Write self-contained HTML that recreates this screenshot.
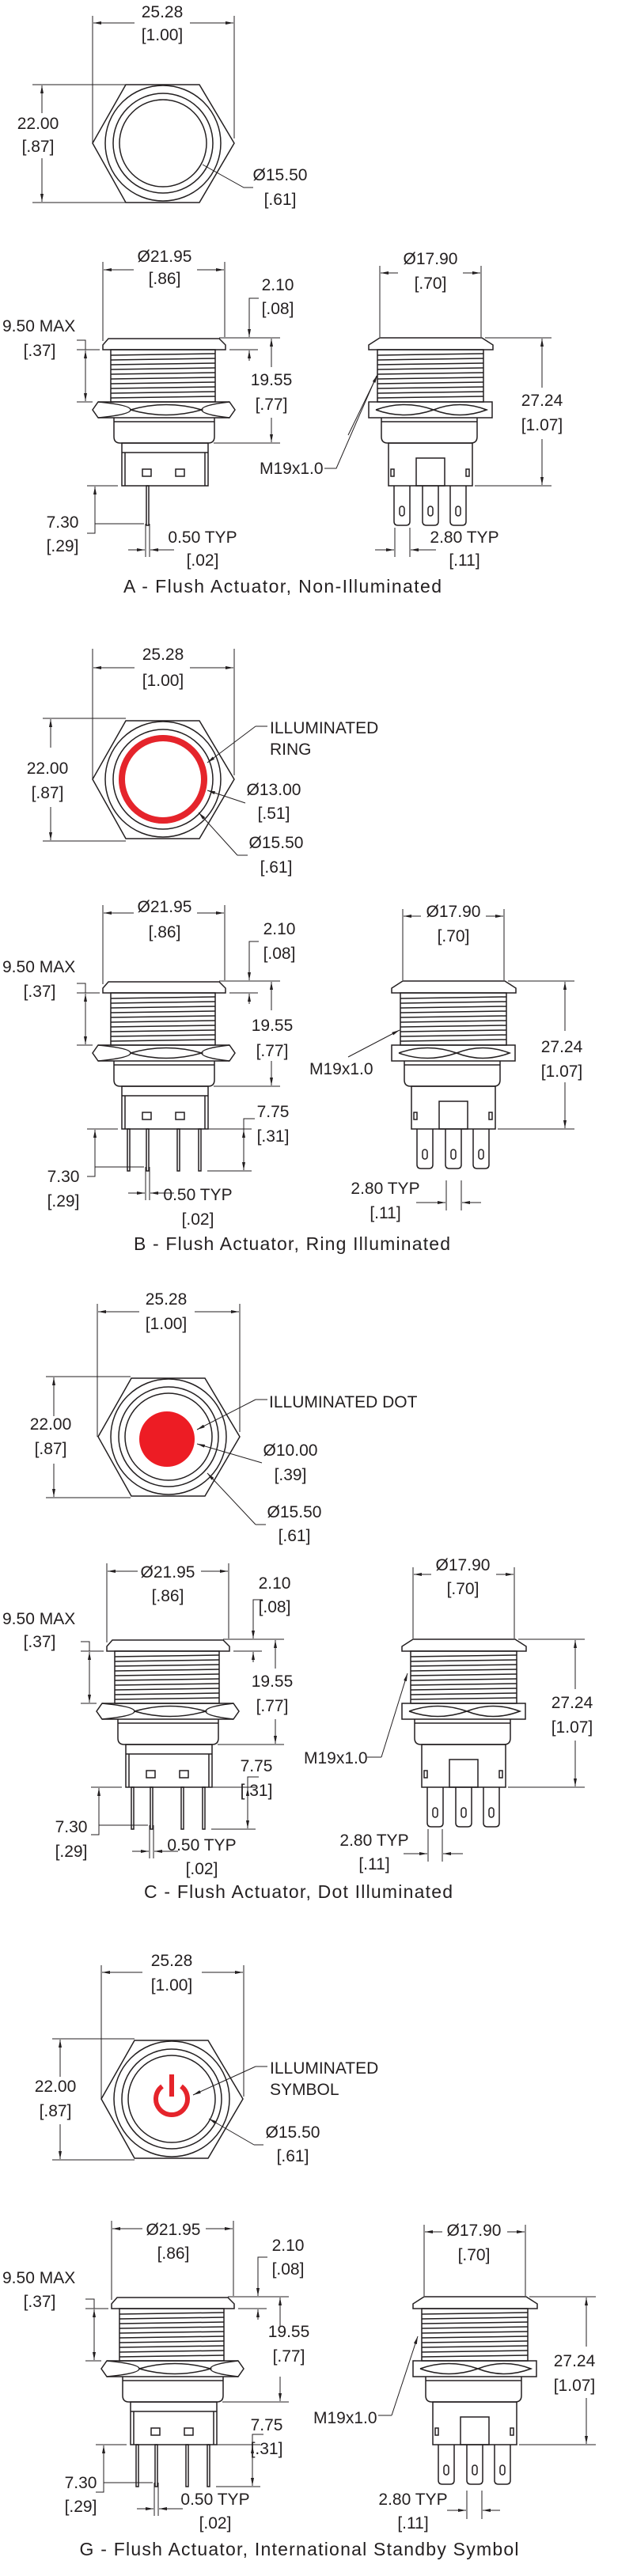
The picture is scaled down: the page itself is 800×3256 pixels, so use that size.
<!DOCTYPE html>
<html><head><meta charset="utf-8"><style>
html,body{margin:0;padding:0;background:#fff;}
svg{display:block}
.t{font-family:"Liberation Sans",Arial,sans-serif;font-size:21px;fill:#231f20;}
.m{text-anchor:middle}
.h{font-family:"Liberation Sans",Arial,sans-serif;font-size:23px;fill:#231f20;text-anchor:middle}
.o{fill:none;stroke:#231f20;stroke-width:1.5}
.d{fill:none;stroke:#231f20;stroke-width:1}
</style></head><body>
<svg width="800" height="3256" viewBox="0 0 800 3256" xmlns="http://www.w3.org/2000/svg">
<defs>
<marker id="a" viewBox="0 0 10 4" refX="10" refY="2" markerWidth="10" markerHeight="4" orient="auto" markerUnits="userSpaceOnUse"><path d="M0,0L10,2L0,4Z" fill="#231f20"/></marker>
<g id="hex" class="o"><polygon points="117,181 159,107 252,107 296,181 252,256 159,256"/><circle cx="206" cy="181" r="73"/><circle cx="206" cy="181" r="63"/><circle cx="206" cy="181" r="55"/></g>
<g id="L">
<g class="o">
<path d="M137,428H277L285,436V442H130V436Z"/>
<rect x="140" y="442" width="132" height="66"/>
<path d="M140,449L272,447M140,455L272,453M140,461L272,459M140,467L272,465M140,473L272,471M140,479L272,477M140,485L272,483M140,491L272,489M140,497L272,495M140,503L272,501"/>
<path d="M117,518L124,508H290L297,518L290,528H124Z"/>
<path d="M124,508Q165,512 165,518Q165,524 124,528M165,518Q210,505 255,518Q210,531 165,518M290,508Q255,512 255,518Q255,524 290,528"/>
<path d="M144,528V552Q144,560 152,560H263Q271,560 271,552V528M144,533H271"/>
<rect x="154" y="560" width="109" height="54"/>
<path d="M158,572V614M259,572V614M154,572H263"/>
<rect x="180" y="593" width="11" height="9"/><rect x="222" y="593" width="11" height="9"/>
</g>
<g class="d">
<path d="M130,331V431M284,331V426"/>
<line x1="169" y1="341" x2="131" y2="341" marker-end="url(#a)"/><line x1="249" y1="341" x2="283" y2="341" marker-end="url(#a)"/>
<path d="M277,427H354M290,442H326"/>
<path d="M327,377H315V426" marker-end="url(#a)"/><line x1="315" y1="456" x2="315" y2="443" marker-end="url(#a)"/>
<line x1="343" y1="464" x2="343" y2="428" marker-end="url(#a)"/><line x1="343" y1="528" x2="343" y2="559" marker-end="url(#a)"/>
<path d="M270,560H354"/>
<path d="M97,430H108V442M97,442H126M97,508H117"/>
<line x1="108" y1="475" x2="108" y2="443" marker-end="url(#a)"/><line x1="108" y1="475" x2="108" y2="507" marker-end="url(#a)"/>
<path d="M110,614H149M120,650V674H110M120,662H182"/>
<line x1="120" y1="650" x2="120" y2="615" marker-end="url(#a)"/>
<path d="M184,662V704M189,662V704"/>
<line x1="162" y1="695" x2="183" y2="695" marker-end="url(#a)"/><line x1="220" y1="695" x2="190" y2="695" marker-end="url(#a)"/>
</g>
</g>
<g id="P1" class="o"><rect x="185" y="614" width="3" height="50"/></g>
<g id="P4">
<g class="o"><rect x="161" y="614" width="3" height="53"/><rect x="185" y="614" width="3" height="53"/><rect x="224" y="614" width="3" height="53"/><rect x="251" y="614" width="3" height="53"/></g>
<g class="d"><path d="M262,614H318M262,667H318"/><path d="M322,601H308V666" marker-end="url(#a)"/><line x1="308" y1="640" x2="308" y2="615" marker-end="url(#a)"/></g>
</g>
<g id="R">
<g class="o">
<path d="M480,427H609L623,436V442H466V436Z"/>
<rect x="477" y="442" width="134" height="66"/>
<path d="M477,449L611,447M477,455L611,453M477,461L611,459M477,467L611,465M477,473L611,471M477,479L611,477M477,485L611,483M477,491L611,489M477,497L611,495M477,503L611,501"/>
<rect x="466" y="508" width="156" height="20"/>
<path d="M475,518Q511,505 548,518Q511,531 475,518M548,518Q581,505 615,518Q581,531 548,518"/>
<path d="M482,528V552Q482,560 490,560H595Q603,560 603,552V528M482,533H603"/>
<rect x="491" y="560" width="106" height="54"/><rect x="526" y="579" width="36" height="35"/>
<rect x="494" y="593" width="4" height="9"/><rect x="589" y="593" width="4" height="9"/>
<path d="M498,614V659Q498,664 503,664H513Q518,664 518,659V614M534,614V659Q534,664 539,664H549Q554,664 554,659V614M569,614V659Q569,664 574,664H584Q589,664 589,659V614"/>
<rect x="505" y="640" width="6" height="12" rx="3"/><rect x="541" y="640" width="6" height="12" rx="3"/><rect x="576" y="640" width="6" height="12" rx="3"/>
</g>
<g class="d">
<path d="M480,336V426M608,336V426"/>
<line x1="503" y1="345" x2="481" y2="345" marker-end="url(#a)"/><line x1="585" y1="345" x2="607" y2="345" marker-end="url(#a)"/>
<path d="M613,427H697M600,614H697"/>
<line x1="685" y1="490" x2="685" y2="428" marker-end="url(#a)"/><line x1="685" y1="555" x2="685" y2="613" marker-end="url(#a)"/>
</g>
</g>
</defs>

<!-- ===== A ===== -->
<use href="#hex"/>
<g class="d">
<path d="M117,20V181M296,20V175"/>
<line x1="170" y1="29" x2="118" y2="29" marker-end="url(#a)"/><line x1="240" y1="29" x2="295" y2="29" marker-end="url(#a)"/>
<path d="M41,107H159M41,256H159"/>
<line x1="53" y1="143" x2="53" y2="108" marker-end="url(#a)"/><line x1="53" y1="200" x2="53" y2="255" marker-end="url(#a)"/>
<path d="M320,237H308L256,208"/>
</g>
<text class="t m" x="205" y="22">25.28</text><text class="t m" x="205" y="51">[1.00]</text>
<text class="t m" x="48" y="163">22.00</text><text class="t m" x="48" y="192">[.87]</text>
<text class="t m" x="354" y="228">Ø15.50</text><text class="t m" x="354" y="259">[.61]</text>
<use href="#L"/><use href="#P1"/><use href="#R"/>
<g class="d"><path d="M410,592H425L476,475"/><line x1="440" y1="550" x2="477" y2="474" marker-end="url(#a)"/>
<path d="M499,667V704M518,667V704"/>
<line x1="474" y1="695" x2="498" y2="695" marker-end="url(#a)"/><line x1="551" y1="695" x2="519" y2="695" marker-end="url(#a)"/></g>
<text class="t m" x="208" y="331">Ø21.95</text><text class="t m" x="208" y="359">[.86]</text>
<text class="t m" x="351" y="367">2.10</text><text class="t m" x="351" y="397">[.08]</text>
<text class="t" x="3" y="419">9.50 MAX</text><text class="t m" x="50" y="450">[.37]</text>
<text class="t m" x="343" y="487">19.55</text><text class="t m" x="343" y="518">[.77]</text>
<text class="t m" x="79" y="667">7.30</text><text class="t m" x="79" y="697">[.29]</text>
<text class="t m" x="256" y="686">0.50 TYP</text><text class="t m" x="256" y="715">[.02]</text>
<text class="t m" x="544" y="334">Ø17.90</text><text class="t m" x="544" y="365">[.70]</text>
<text class="t m" x="685" y="513">27.24</text><text class="t m" x="685" y="544">[1.07]</text>
<text class="t" x="328" y="599">M19x1.0</text>
<text class="t m" x="587" y="686">2.80 TYP</text><text class="t m" x="587" y="715">[.11]</text>
<text class="h" x="357" y="749" textLength="402">A - Flush Actuator, Non-Illuminated</text>

<!-- ===== B ===== -->
<use href="#hex" transform="translate(0,804)"/>
<circle cx="206" cy="985" r="52" fill="none" stroke="#e5242b" stroke-width="8"/>
<g class="d">
<path d="M117,820V985M296,820V980"/>
<line x1="170" y1="844" x2="118" y2="844" marker-end="url(#a)"/><line x1="240" y1="844" x2="295" y2="844" marker-end="url(#a)"/>
<path d="M54,908H159M54,1063H159"/>
<line x1="64" y1="945" x2="64" y2="909" marker-end="url(#a)"/><line x1="64" y1="1020" x2="64" y2="1062" marker-end="url(#a)"/>
<path d="M338,918H323"/><line x1="323" y1="918" x2="262" y2="964" marker-end="url(#a)"/>
<line x1="310" y1="1015" x2="262" y2="999" marker-end="url(#a)"/>
<path d="M313,1081H300"/><line x1="300" y1="1081" x2="251" y2="1027" marker-end="url(#a)"/>
</g>
<text class="t m" x="206" y="834">25.28</text><text class="t m" x="206" y="867">[1.00]</text>
<text class="t m" x="60" y="978">22.00</text><text class="t m" x="60" y="1009">[.87]</text>
<text class="t" x="341" y="927">ILLUMINATED</text><text class="t" x="341" y="954">RING</text>
<text class="t m" x="346" y="1005">Ø13.00</text><text class="t m" x="346" y="1035">[.51]</text>
<text class="t m" x="349" y="1072">Ø15.50</text><text class="t m" x="349" y="1103">[.61]</text>
<g transform="translate(0,813)"><use href="#L"/><use href="#P4"/></g>
<use href="#R" transform="translate(29,813)"/>
<g class="d"><line x1="440" y1="1336" x2="505" y2="1302" marker-end="url(#a)"/>
<path d="M564,1492V1530M583,1492V1530"/>
<line x1="526" y1="1520" x2="563" y2="1520" marker-end="url(#a)"/><line x1="608" y1="1520" x2="584" y2="1520" marker-end="url(#a)"/></g>
<text class="t m" x="208" y="1153">Ø21.95</text><text class="t m" x="208" y="1185">[.86]</text>
<text class="t m" x="353" y="1181">2.10</text><text class="t m" x="353" y="1212">[.08]</text>
<text class="t" x="3" y="1229">9.50 MAX</text><text class="t m" x="50" y="1260">[.37]</text>
<text class="t m" x="344" y="1303">19.55</text><text class="t m" x="344" y="1335">[.77]</text>
<text class="t m" x="345" y="1412">7.75</text><text class="t m" x="345" y="1443">[.31]</text>
<text class="t m" x="80" y="1494">7.30</text><text class="t m" x="80" y="1525">[.29]</text>
<text class="t m" x="250" y="1517">0.50 TYP</text><text class="t m" x="250" y="1548">[.02]</text>
<text class="t m" x="573" y="1159">Ø17.90</text><text class="t m" x="573" y="1190">[.70]</text>
<text class="t m" x="710" y="1330">27.24</text><text class="t m" x="710" y="1361">[1.07]</text>
<text class="t" x="391" y="1358">M19x1.0</text>
<text class="t m" x="487" y="1509">2.80 TYP</text><text class="t m" x="487" y="1540">[.11]</text>
<text class="h" x="369" y="1580" textLength="400">B - Flush Actuator, Ring Illuminated</text>

<!-- ===== C ===== -->
<use href="#hex" transform="translate(7,1635)"/>
<circle cx="211" cy="1819" r="35" fill="#ed1c24"/>
<g class="d">
<path d="M123,1648V1816M303,1648V1810"/>
<line x1="176" y1="1658" x2="124" y2="1658" marker-end="url(#a)"/><line x1="246" y1="1658" x2="302" y2="1658" marker-end="url(#a)"/>
<path d="M58,1740H165M58,1893H165"/>
<line x1="68" y1="1790" x2="68" y2="1741" marker-end="url(#a)"/><line x1="68" y1="1850" x2="68" y2="1892" marker-end="url(#a)"/>
<path d="M338,1769H323"/><line x1="323" y1="1769" x2="249" y2="1807" marker-end="url(#a)"/>
<line x1="331" y1="1849" x2="249" y2="1825" marker-end="url(#a)"/>
<path d="M336,1927H323"/><line x1="323" y1="1927" x2="262" y2="1862" marker-end="url(#a)"/>
</g>
<text class="t m" x="210" y="1649">25.28</text><text class="t m" x="210" y="1680">[1.00]</text>
<text class="t m" x="64" y="1807">22.00</text><text class="t m" x="64" y="1838">[.87]</text>
<text class="t" x="340" y="1779">ILLUMINATED DOT</text>
<text class="t m" x="367" y="1840">Ø10.00</text><text class="t m" x="367" y="1871">[.39]</text>
<text class="t m" x="372" y="1918">Ø15.50</text><text class="t m" x="372" y="1948">[.61]</text>
<g transform="translate(5,1645)"><use href="#L"/><use href="#P4"/></g>
<use href="#R" transform="translate(42,1645)"/>
<g class="d"><path d="M464,2221H482"/><line x1="482" y1="2221" x2="515" y2="2115" marker-end="url(#a)"/>
<path d="M541,2312V2353M559,2312V2353"/>
<line x1="510" y1="2343" x2="540" y2="2343" marker-end="url(#a)"/><line x1="585" y1="2343" x2="560" y2="2343" marker-end="url(#a)"/></g>
<text class="t m" x="212" y="1994">Ø21.95</text><text class="t m" x="212" y="2024">[.86]</text>
<text class="t m" x="347" y="2008">2.10</text><text class="t m" x="347" y="2038">[.08]</text>
<text class="t" x="3" y="2053">9.50 MAX</text><text class="t m" x="50" y="2082">[.37]</text>
<text class="t m" x="344" y="2132">19.55</text><text class="t m" x="344" y="2163">[.77]</text>
<text class="t m" x="324" y="2239">7.75</text><text class="t m" x="324" y="2270">[.31]</text>
<text class="t m" x="90" y="2316">7.30</text><text class="t m" x="90" y="2347">[.29]</text>
<text class="t m" x="255" y="2339">0.50 TYP</text><text class="t m" x="255" y="2369">[.02]</text>
<text class="t m" x="585" y="1985">Ø17.90</text><text class="t m" x="585" y="2015">[.70]</text>
<text class="t m" x="723" y="2159">27.24</text><text class="t m" x="723" y="2190">[1.07]</text>
<text class="t" x="384" y="2229">M19x1.0</text>
<text class="t m" x="473" y="2333">2.80 TYP</text><text class="t m" x="473" y="2363">[.11]</text>
<text class="h" x="377" y="2399" textLength="390">C - Flush Actuator, Dot Illuminated</text>

<!-- ===== G ===== -->
<use href="#hex" transform="translate(11,2472)"/>
<path d="M205,2637A20,20 0 1 0 229,2637" fill="none" stroke="#e5242b" stroke-width="6"/>
<line x1="217" y1="2622" x2="217" y2="2650" stroke="#e5242b" stroke-width="6"/>
<g class="d">
<path d="M128,2484V2653M308,2484V2650"/>
<line x1="180" y1="2493" x2="129" y2="2493" marker-end="url(#a)"/><line x1="255" y1="2493" x2="307" y2="2493" marker-end="url(#a)"/>
<path d="M66,2577H170M66,2730H170"/>
<line x1="76" y1="2625" x2="76" y2="2578" marker-end="url(#a)"/><line x1="76" y1="2685" x2="76" y2="2729" marker-end="url(#a)"/>
<path d="M338,2612H323"/><line x1="323" y1="2612" x2="244" y2="2648" marker-end="url(#a)"/>
<path d="M333,2711H321"/><line x1="321" y1="2711" x2="264" y2="2678" marker-end="url(#a)"/>
</g>
<text class="t m" x="217" y="2485">25.28</text><text class="t m" x="217" y="2516">[1.00]</text>
<text class="t m" x="70" y="2644">22.00</text><text class="t m" x="70" y="2675">[.87]</text>
<text class="t" x="341" y="2621">ILLUMINATED</text><text class="t" x="341" y="2648">SYMBOL</text>
<text class="t m" x="370" y="2702">Ø15.50</text><text class="t m" x="370" y="2732">[.61]</text>
<g transform="translate(11,2476)"><use href="#L"/><use href="#P4"/></g>
<use href="#R" transform="translate(56,2476)"/>
<g class="d"><path d="M478,3053H495"/><line x1="495" y1="3053" x2="528" y2="2953" marker-end="url(#a)"/>
<path d="M590,3148V3184M609,3148V3184"/>
<line x1="565" y1="3173" x2="589" y2="3173" marker-end="url(#a)"/><line x1="632" y1="3173" x2="610" y2="3173" marker-end="url(#a)"/></g>
<text class="t m" x="219" y="2825">Ø21.95</text><text class="t m" x="219" y="2855">[.86]</text>
<text class="t m" x="364" y="2845">2.10</text><text class="t m" x="364" y="2875">[.08]</text>
<text class="t" x="3" y="2886">9.50 MAX</text><text class="t m" x="50" y="2916">[.37]</text>
<text class="t m" x="365" y="2954">19.55</text><text class="t m" x="365" y="2985">[.77]</text>
<text class="t m" x="337" y="3072">7.75</text><text class="t m" x="337" y="3102">[.31]</text>
<text class="t m" x="102" y="3145">7.30</text><text class="t m" x="102" y="3175">[.29]</text>
<text class="t m" x="272" y="3166">0.50 TYP</text><text class="t m" x="272" y="3196">[.02]</text>
<text class="t m" x="599" y="2826">Ø17.90</text><text class="t m" x="599" y="2857">[.70]</text>
<text class="t m" x="726" y="2991">27.24</text><text class="t m" x="726" y="3022">[1.07]</text>
<text class="t" x="396" y="3063">M19x1.0</text>
<text class="t m" x="522" y="3166">2.80 TYP</text><text class="t m" x="522" y="3196">[.11]</text>
<text class="h" x="378" y="3230" textLength="555">G - Flush Actuator, International Standby Symbol</text>
</svg>
</body></html>
